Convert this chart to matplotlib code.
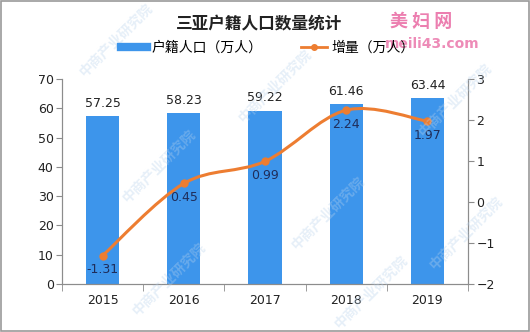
import numpy as np
import matplotlib
matplotlib.use("Agg")
import matplotlib.pyplot as plt
from matplotlib.path import Path
from matplotlib.patches import PathPatch, Rectangle
from matplotlib.lines import Line2D

plt.rcParams['font.family'] = ['Noto Sans CJK SC', 'DejaVu Sans']

years = ['2015', '2016', '2017', '2018', '2019']
population = [57.25, 58.23, 59.22, 61.46, 63.44]
increase = [-1.31, 0.45, 0.99, 2.24, 1.97]

bar_color = '#3d95eb'
line_color = '#ed7d31'
label_navy = '#1f2d5a'
axis_gray = '#8c8c8c'


def smooth_path(xs, ys, tension=0.5):
    # Catmull-Rom style cubic segments through the points
    xs = np.asarray(xs, float)
    ys = np.asarray(ys, float)
    verts = [(xs[0], ys[0])]
    codes = [Path.MOVETO]
    n = len(xs)
    for i in range(n - 1):
        p0 = (xs[max(i - 1, 0)], ys[max(i - 1, 0)])
        p1 = (xs[i], ys[i])
        p2 = (xs[i + 1], ys[i + 1])
        p3 = (xs[min(i + 2, n - 1)], ys[min(i + 2, n - 1)])
        c1 = (p1[0] + (p2[0] - p0[0]) * tension / 3, p1[1] + (p2[1] - p0[1]) * tension / 3)
        c2 = (p2[0] - (p3[0] - p1[0]) * tension / 3, p2[1] - (p3[1] - p1[1]) * tension / 3)
        verts += [c1, c2, p2]
        codes += [Path.CURVE4] * 3
    return Path(verts, codes)


fig = plt.figure(figsize=(5.30, 3.32), dpi=100)
fig.patch.set_facecolor('white')
fig.patches.append(Rectangle((0.002, 0.003), 0.996, 0.994, transform=fig.transFigure,
                             fill=False, edgecolor='#9a9a9a', linewidth=1.2))

# faint diagonal watermarks behind everything
for wx, wy in [(0.22, 0.88), (0.52, 0.74), (0.86, 0.70), (0.30, 0.50),
               (0.62, 0.36), (0.88, 0.30), (0.32, 0.16), (0.70, 0.12)]:
    fig.text(wx, wy, '中商产业研究院', rotation=45, fontsize=10, color='#b8d2ec',
             alpha=0.35, ha='center', va='center', fontweight='bold', zorder=0)

ax = fig.add_axes([0.117, 0.145, 0.766, 0.617])
ax.patch.set_alpha(0)
ax2 = ax.twinx()

x = np.arange(len(years))
ax.bar(x, population, width=0.41, color=bar_color, zorder=2)
for xi, v in zip(x, population):
    ax.text(xi, v + 2.2, f'{v:.2f}', ha='center', va='bottom', fontsize=9,
            family='DejaVu Sans', color='#222222')

ax.set_xlim(-0.5, len(years) - 0.5)
ax.set_ylim(0, 70)
ax.set_yticks(range(0, 71, 10))
ax.set_xticks(x)
ax.set_xticklabels(years)
ax.set_xticks(np.arange(-0.5, len(years), 1), minor=True)
ax.tick_params(axis='x', which='major', length=0, pad=7, labelsize=9)
ax.tick_params(axis='x', which='minor', length=5, color=axis_gray)
ax.tick_params(axis='y', length=4, color=axis_gray, labelsize=9, pad=2)

ax2.set_ylim(-2, 3)
ax2.set_yticks(range(-2, 4))
ax2.tick_params(axis='y', length=4, color=axis_gray, labelsize=9, pad=2)

for a in (ax, ax2):
    a.spines['top'].set_visible(False)
    a.spines['left'].set_color(axis_gray)
    a.spines['right'].set_color(axis_gray)
    a.spines['bottom'].set_color(axis_gray)
    for lbl in a.get_yticklabels() + a.get_xticklabels():
        lbl.set_family('DejaVu Sans')
        lbl.set_color('#222222')

ax2.add_patch(PathPatch(smooth_path(x, increase), facecolor='none',
                        edgecolor=line_color, linewidth=2.2, zorder=3))
ax2.plot(x, increase, 'o', color=line_color, markersize=5, zorder=4)
for xi, v in zip(x, increase):
    ax2.text(xi, v - 0.18, f'{v:.2f}', ha='center', va='top', fontsize=9,
             family='DejaVu Sans', color=label_navy, zorder=5)

fig.text(0.488, 0.927, '三亚户籍人口数量统计', ha='center', va='center', fontsize=12,
         fontweight='bold', color='#222222')
fig.text(0.795, 0.935, '美 妇 网', ha='center', va='center', fontsize=13,
         fontweight='bold', color='#ec7fb0')
fig.text(0.815, 0.868, 'meili43.com', ha='center', va='center', fontsize=10,
         fontweight='bold', color='#ec7fb0', family='DejaVu Sans', alpha=0.9)

legend_handles = [
    Line2D([0], [0], color=bar_color, linewidth=6),
    Line2D([0], [0], color=line_color, linewidth=2, marker='o', markersize=4),
]
fig.legend(legend_handles, ['户籍人口（万人）', '增量（万人）'], loc='center',
           bbox_to_anchor=(0.505, 0.855), ncol=2, frameon=False, fontsize=10,
           handlelength=1.9, columnspacing=2.8, handletextpad=0.3)

fig.savefig('out.png', dpi=100, facecolor='white')
